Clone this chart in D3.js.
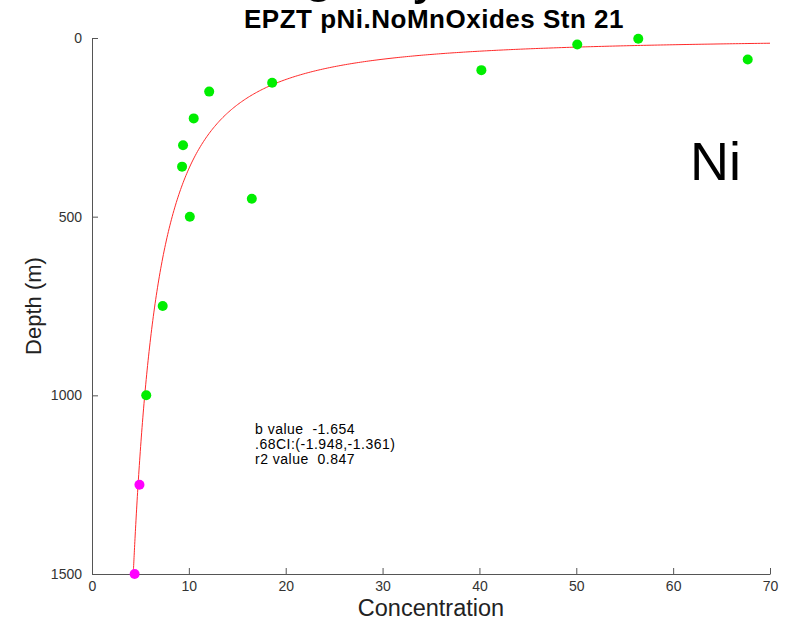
<!DOCTYPE html>
<html>
<head>
<meta charset="utf-8">
<script src="https://cdn.jsdelivr.net/npm/d3@7"></script>
<style>
  html, body { margin: 0; padding: 0; background: #fff; }
  svg { display: block; }
  text { font-family: "Liberation Sans", Arial, Helvetica, sans-serif; }
  .stats { white-space: pre; }
</style>
</head>
<body>
<svg id="chart" width="795" height="622"></svg>
<script>
// Particulate Ni profile, station 21 (concentration vs depth)
const concUpper = [56.4, 50.1, 67.7, 40.2, 18.6, 12.1, 10.5, 9.4, 9.3, 16.5, 10.1, 7.3, 5.6];
const depthUpper = [2, 18, 60, 90, 125, 150, 225, 300, 360, 450, 500, 750, 1000];
const concDeep = [4.9, 4.4];
const depthDeep = [1250, 1500];

const xTicks = [0, 10, 20, 30, 40, 50, 60, 70];
const yTicks = [0, 500, 1000, 1500];

// Power-law fit: depth = A * conc^b
const bValue = -1.654;
const fitA = 16490;
const statLines = ["b value  -1.654", ".68CI:(-1.948,-1.361)", "r2 value  0.847"];

const svg = d3.select("#chart");
const x = d3.scaleLinear().domain([0, 70]).range([92, 770]);
const y = d3.scaleLinear().domain([0, 1500]).range([38, 574]);

// Large heading sitting mostly above the top edge
svg.append("text").attr("x", 303).attr("y", -10.5)
  .attr("font-size", 56).attr("fill", "#000").text("g");
svg.append("text").attr("x", 413).attr("y", -8)
  .attr("font-size", 56).attr("fill", "#000").text("y");

// Axes (ticks point inward)
const axisColor = "#555";
const gx = svg.append("g").attr("transform", "translate(0,574)")
  .call(d3.axisBottom(x).tickValues(xTicks).tickFormat(d3.format("d"))
    .tickSizeInner(-6).tickSizeOuter(0).tickPadding(7));
const gy = svg.append("g").attr("transform", "translate(92,0)")
  .call(d3.axisLeft(y).tickValues(yTicks).tickFormat(d3.format("d"))
    .tickSizeInner(-6).tickSizeOuter(0).tickPadding(10));
[gx, gy].forEach(g => {
  g.select(".domain").attr("stroke", axisColor).attr("stroke-width", 1);
  g.selectAll(".tick line").attr("stroke", axisColor);
  g.selectAll(".tick text").attr("fill", "#333").attr("font-size", 14)
    .attr("font-family", "'Liberation Sans', Arial, sans-serif");
});

// Fitted curve
const cMin = Math.pow(1500 / fitA, 1 / bValue);
const fitPts = d3.range(0, 401).map(i => {
  const c = cMin + (70 - cMin) * Math.pow(i / 400, 2);
  return [c, fitA * Math.pow(c, bValue)];
});
svg.append("path").datum(fitPts)
  .attr("fill", "none").attr("stroke", "#ff2a2a").attr("stroke-width", 1)
  .attr("d", d3.line().x(d => x(d[0])).y(d => y(d[1])));

// Observations
svg.selectAll("circle.upper").data(concUpper).join("circle").attr("class", "upper")
  .attr("cx", d => x(d)).attr("cy", (d, i) => y(depthUpper[i])).attr("r", 5)
  .attr("fill", "#00ee00");
svg.selectAll("circle.deep").data(concDeep).join("circle").attr("class", "deep")
  .attr("cx", d => x(d)).attr("cy", (d, i) => y(depthDeep[i])).attr("r", 5)
  .attr("fill", "#ff00ff");

// Title and labels
svg.append("text").attr("x", 434).attr("y", 28).attr("text-anchor", "middle")
  .attr("font-size", 26).attr("font-weight", "bold").attr("letter-spacing", 0.5)
  .attr("fill", "#000").text("EPZT pNi.NoMnOxides Stn 21");
svg.append("text").attr("x", 431).attr("y", 616).attr("text-anchor", "middle")
  .attr("font-size", 23.5).attr("fill", "#222").text("Concentration");
svg.append("text").attr("transform", "translate(41,306) rotate(-90)")
  .attr("text-anchor", "middle").attr("font-size", 22).attr("fill", "#222")
  .text("Depth (m)");
svg.append("text").attr("x", 690).attr("y", 180)
  .attr("font-size", 54).attr("fill", "#000").text("Ni");

svg.append("g").selectAll("text").data(statLines).join("text")
  .attr("class", "stats")
  .attr("x", 255).attr("y", (d, i) => 434 + i * 15)
  .attr("font-size", 14).attr("letter-spacing", 0.5).attr("fill", "#000").text(d => d);
</script>
</body>
</html>
